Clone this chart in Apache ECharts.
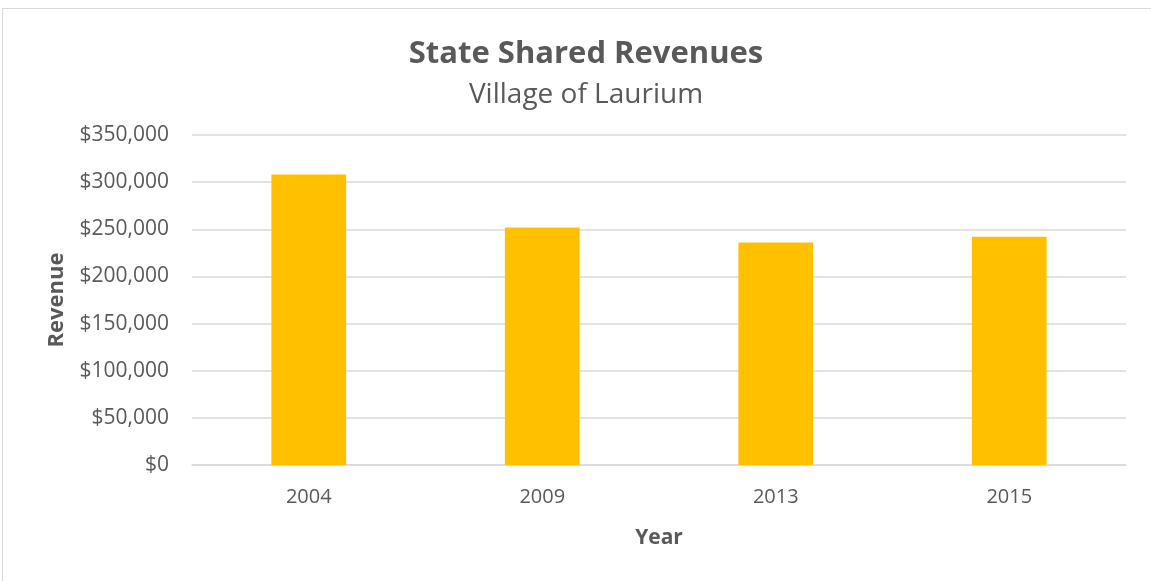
<!DOCTYPE html>
<html>
<head>
<meta charset="utf-8">
<script src="https://cdn.jsdelivr.net/npm/echarts@6/dist/echarts.min.js"></script>
<style>
html, body { margin: 0; padding: 0; background: #fff; }
#chart { position: absolute; left: 2px; top: 8px; width: 1160px; height: 590px; border: 1px solid #d9d9d9; box-sizing: border-box; }
</style>
</head>
<body>
<div id="chart"></div>
<script>
var years = ['2004', '2009', '2013', '2015'];
var revenue = [308000, 252000, 236000, 242000];
var yTicks = [0, 50000, 100000, 150000, 200000, 250000, 300000, 350000];

var chart = echarts.init(document.getElementById('chart'));
var font = '"Open Sans", sans-serif';
var grey = '#595959';

chart.setOption({
    animation: false,
    title: [{
        text: 'State Shared Revenues',
        left: 578,
        textAlign: 'center',
        top: 25,
        textStyle: { fontFamily: font, fontSize: 31, fontWeight: 'bold', color: grey }
    }, {
        text: 'Village of Laurium',
        left: 578,
        textAlign: 'center',
        top: 67,
        textStyle: { fontFamily: font, fontSize: 28, fontWeight: 'normal', color: grey }
    }],
    grid: { left: 189, right: 35, top: 126, bottom: 132 },
    xAxis: {
        type: 'category',
        data: years,
        name: 'Year',
        nameLocation: 'middle',
        nameGap: 63,
        nameTextStyle: { fontFamily: font, fontSize: 21, fontWeight: 'bold', color: grey },
        axisLine: { lineStyle: { color: '#d9d9d9', width: 1.5 } },
        axisTick: { show: false },
        axisLabel: { fontFamily: font, fontSize: 20, color: grey, margin: 22 }
    },
    yAxis: {
        type: 'value',
        min: yTicks[0],
        max: yTicks[yTicks.length - 1],
        interval: 50000,
        name: 'Revenue',
        nameLocation: 'middle',
        nameGap: 124,
        nameTextStyle: { fontFamily: font, fontSize: 22, fontWeight: 'bold', color: grey },
        axisLine: { show: false },
        axisTick: { show: false },
        splitLine: { lineStyle: { color: '#d9d9d9', width: 1.5 } },
        axisLabel: {
            fontFamily: font, fontSize: 21, color: grey, margin: 23,
            formatter: function (v) { return '$' + v.toLocaleString('en-US'); }
        }
    },
    series: [{
        type: 'bar',
        data: revenue,
        barWidth: '32%',
        itemStyle: { color: '#ffc000' }
    }]
});
</script>
</body>
</html>
